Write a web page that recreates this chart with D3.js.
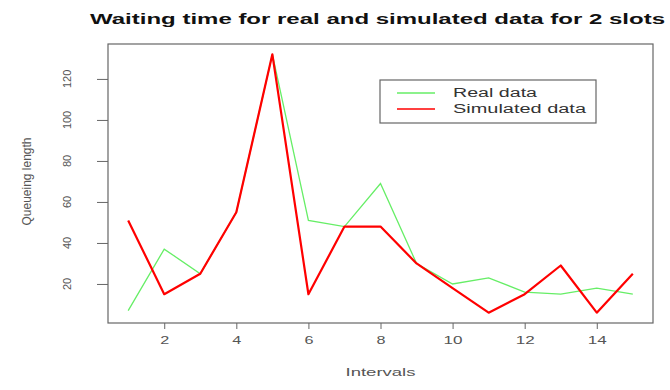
<!DOCTYPE html>
<html lang="en">
  <head>
    <meta charset="utf-8">
    <title>Waiting time</title>
    <style>
      body { margin: 0; background: #fff; }
      text { font-family: "Liberation Sans", Arial, sans-serif; fill: #333; }
    </style>
  </head>
  <body>
    <svg width="670" height="390"></svg>
    <script src="https://cdn.jsdelivr.net/npm/d3@7"></script>
    <script>
      const intervals = [1,2,3,4,5,6,7,8,9,10,11,12,13,14,15];
      const realData = [7,37,25,55,132,51,48,69,30,20,23,16,15,18,15];
      const simData  = [51,15,25,55,132,15,48,48,30,18,6,15,29,6,25];
      const xTicks = [2,4,6,8,10,12,14];
      const yTicks = [20,40,60,80,100,120];
      const legendLabels = ['Real data', 'Simulated data'];
      const colours = ['#66ee66', '#ff0000'];

      const svg = d3.select('svg');
      const plotLeft = 108, plotRight = 653, plotTop = 44, plotBottom = 323;

      // R style 4% padding round the data range
      const xPad = (d3.max(intervals) - d3.min(intervals)) * 0.04;
      const x = d3.scaleLinear()
        .domain([d3.min(intervals) - xPad, d3.max(intervals) + xPad])
        .range([plotLeft, plotRight]);
      const allY = realData.concat(simData);
      const yPad = (d3.max(allY) - d3.min(allY)) * 0.04;
      const y = d3.scaleLinear()
        .domain([d3.min(allY) - yPad, d3.max(allY) + yPad])
        .range([plotBottom, plotTop]);

      // title
      svg.append('text')
        .attr('x', 90).attr('y', 24)
        .attr('textLength', 575).attr('lengthAdjust', 'spacingAndGlyphs')
        .style('font-size', '14px').style('font-weight', 'bold').style('fill', '#111')
        .text('Waiting time for real and simulated data for 2 slots');

      // box
      svg.append('rect')
        .attr('x', plotLeft).attr('y', plotTop)
        .attr('width', plotRight - plotLeft).attr('height', plotBottom - plotTop)
        .attr('fill', 'none').attr('stroke', '#666').attr('stroke-width', 1.2);

      // x axis
      const xg = svg.append('g').attr('transform', `translate(0,${plotBottom})`)
        .call(d3.axisBottom(x).tickValues(xTicks).tickSize(6).tickPadding(7));
      xg.select('.domain').remove();
      xg.selectAll('.tick line').attr('stroke', '#666');
      xg.selectAll('.tick text')
        .style('font-size', '11px').style('fill', '#555')
        .attr('textLength', d => d >= 10 ? 19 : 9)
        .attr('lengthAdjust', 'spacingAndGlyphs');

      // y axis
      const yg = svg.append('g').attr('transform', `translate(${plotLeft},0)`)
        .call(d3.axisLeft(y).tickValues(yTicks).tickSize(11).tickPadding(0));
      yg.select('.domain').remove();
      yg.selectAll('.tick line').attr('stroke', '#666');
      yg.selectAll('.tick text').remove();
      svg.selectAll('.ylab').data(yTicks).enter()
        .append('text').attr('class', 'ylab')
        .attr('transform', d => `translate(71,${y(d)}) rotate(-90)`)
        .attr('text-anchor', 'middle')
        .style('font-size', '11px').style('fill', '#555')
        .text(d => d);

      // axis titles
      svg.append('text')
        .attr('x', (plotLeft + plotRight) / 2 - 35).attr('y', 376)
        .attr('textLength', 70).attr('lengthAdjust', 'spacingAndGlyphs')
        .style('font-size', '10px').style('fill', '#555')
        .text('Intervals');
      svg.append('text')
        .attr('transform', `translate(31,${(plotTop + plotBottom) / 2 - 2}) rotate(-90)`)
        .attr('text-anchor', 'middle')
        .attr('textLength', 88).attr('lengthAdjust', 'spacingAndGlyphs')
        .style('font-size', '12px').style('fill', '#555')
        .text('Queueing length');

      // lines
      const line = d3.line()
        .x((d, i) => x(intervals[i]))
        .y(d => y(d));
      svg.append('path').datum(realData)
        .attr('d', line).attr('fill', 'none')
        .attr('stroke', colours[0]).attr('stroke-width', 1.3);
      svg.append('path').datum(simData)
        .attr('d', line).attr('fill', 'none')
        .attr('stroke', colours[1]).attr('stroke-width', 2.2)
        .attr('stroke-linejoin', 'round');

      // legend
      const lg = svg.append('g');
      lg.append('rect')
        .attr('x', 380).attr('y', 80).attr('width', 216).attr('height', 43)
        .attr('fill', '#fff').attr('stroke', '#666').attr('stroke-width', 1.2);
      const widths = [84, 133];
      lg.selectAll('line').data(legendLabels).enter()
        .append('line')
        .attr('x1', 397).attr('x2', 435)
        .attr('y1', (d, i) => 93 + i * 16).attr('y2', (d, i) => 93 + i * 16)
        .attr('stroke', (d, i) => colours[i])
        .attr('stroke-width', (d, i) => i ? 1.6 : 1.3);
      lg.selectAll('text').data(legendLabels).enter()
        .append('text')
        .attr('x', 453).attr('y', (d, i) => 97 + i * 16)
        .attr('textLength', (d, i) => widths[i]).attr('lengthAdjust', 'spacingAndGlyphs')
        .style('font-size', '12px').style('fill', '#333')
        .text(d => d);
    </script>
  </body>
</html>
